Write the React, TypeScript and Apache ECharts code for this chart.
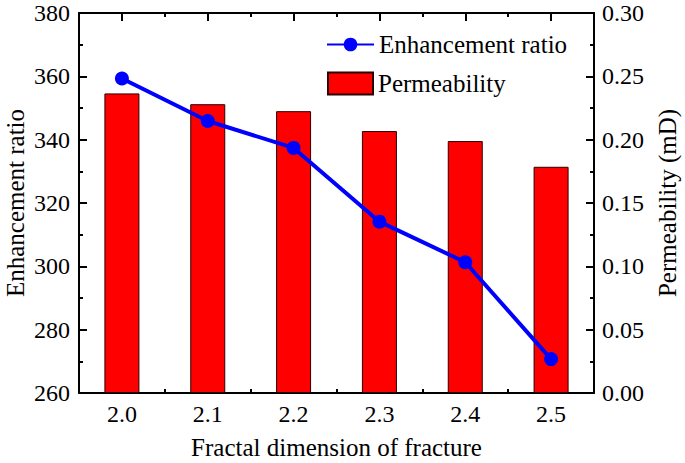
import React, { useEffect, useRef } from "react";
import * as echarts from "echarts";

const categories = ["2.0", "2.1", "2.2", "2.3", "2.4", "2.5"];
const enhancementRatio = [359.3, 345.9, 337.4, 314.1, 301.3, 270.7];
const permeability = [0.2365, 0.228, 0.2225, 0.2068, 0.1989, 0.1786];
const leftTicks = { min: 260, max: 380, interval: 20 };
const rightTicks = { min: 0, max: 0.3, interval: 0.05 };

const FONT = "'Liberation Serif', 'Times New Roman', serif";

export default function App() {
  const ref = useRef<HTMLDivElement>(null);
  useEffect(() => {
    if (!ref.current) return;
    const chart = echarts.init(ref.current, undefined, { renderer: "svg" });
    const black = "#000";
    const baseX = {
      type: "category",
      data: categories,
      boundaryGap: true,
      axisLine: { show: true, lineStyle: { color: black, width: 2 } },
      splitLine: { show: false },
    };
    chart.setOption({
      animation: false,
      backgroundColor: "#fff",
      textStyle: { fontFamily: FONT },
      grid: {
        left: 79,
        right: 91,
        top: 13,
        bottom: 70,
        containLabel: false,
        outerBoundsMode: "none",
      },
      legend: [
        {
          data: ["Enhancement ratio"],
          orient: "vertical",
          left: 326,
          top: 32,
          padding: 0,
          itemWidth: 47,
          itemHeight: 17,
          textStyle: { fontFamily: FONT, fontSize: 25, color: black },
          selectedMode: false,
        },
        {
          data: [{ name: "Permeability", icon: "rect" }],
          orient: "vertical",
          left: 327,
          top: 71,
          padding: 0,
          itemWidth: 45,
          itemHeight: 22,
          textStyle: { fontFamily: FONT, fontSize: 25, color: black },
          selectedMode: false,
        },
      ],
      xAxis: [
        {
          ...baseX,
          position: "bottom",
          name: "Fractal dimension of fracture",
          nameLocation: "middle",
          nameGap: 42,
          nameTextStyle: { fontFamily: FONT, fontSize: 25, color: black },
          axisTick: { show: true, inside: true, alignWithLabel: true, length: 8, lineStyle: { color: black, width: 2 } },
          axisLabel: { show: true, margin: 9, fontFamily: FONT, fontSize: 24, color: black },
        },
        {
          ...baseX,
          position: "bottom",
          axisLine: { show: false },
          axisTick: { show: true, inside: true, length: 4, lineStyle: { color: black, width: 2 } },
          axisLabel: { show: false },
        },
        {
          ...baseX,
          position: "top",
          axisTick: { show: true, inside: true, alignWithLabel: true, length: 8, lineStyle: { color: black, width: 2 } },
          axisLabel: { show: false },
        },
        {
          ...baseX,
          position: "top",
          axisLine: { show: false },
          axisTick: { show: true, inside: true, length: 4, lineStyle: { color: black, width: 2 } },
          axisLabel: { show: false },
        },
      ],
      yAxis: [
        {
          type: "value",
          position: "left",
          min: leftTicks.min,
          max: leftTicks.max,
          interval: leftTicks.interval,
          name: "Enhancement ratio",
          nameLocation: "middle",
          nameGap: 51,
          nameMoveOverlap: false,
          nameTextStyle: { fontFamily: FONT, fontSize: 25, color: black },
          axisLine: { show: true, lineStyle: { color: black, width: 2 } },
          axisTick: { show: true, inside: true, length: 8, lineStyle: { color: black, width: 2 } },
          minorTick: { show: true, splitNumber: 2, length: 4, lineStyle: { color: black, width: 2 } },
          axisLabel: { margin: 9, fontFamily: FONT, fontSize: 24, color: black },
          splitLine: { show: false },
        },
        {
          type: "value",
          position: "right",
          min: rightTicks.min,
          max: rightTicks.max,
          interval: rightTicks.interval,
          name: "Permeability (mD)",
          nameLocation: "middle",
          nameGap: 61,
          nameRotate: 90,
          nameTextStyle: { fontFamily: FONT, fontSize: 25, color: black },
          axisLine: { show: true, lineStyle: { color: black, width: 2 } },
          axisTick: { show: true, inside: true, length: 8, lineStyle: { color: black, width: 2 } },
          minorTick: { show: true, splitNumber: 2, length: 4, lineStyle: { color: black, width: 2 } },
          axisLabel: {
            margin: 8,
            fontFamily: FONT,
            fontSize: 24,
            color: black,
            formatter: (v: number) => v.toFixed(2),
          },
          splitLine: { show: false },
        },
      ],
      series: [
        {
          name: "Permeability",
          type: "bar",
          xAxisIndex: 0,
          yAxisIndex: 1,
          data: permeability,
          barWidth: 35,
          itemStyle: { color: "#ff0000", borderColor: "#2a0000", borderWidth: 1 },
          z: 1,
        },
        {
          name: "Enhancement ratio",
          type: "line",
          xAxisIndex: 0,
          yAxisIndex: 0,
          data: enhancementRatio,
          symbol: "circle",
          symbolSize: 14,
          lineStyle: { color: "#0000ff", width: 4 },
          itemStyle: { color: "#0000ff" },
          z: 3,
        },
      ],
    });
    return () => chart.dispose();
  }, []);
  return (
    <div
      ref={ref}
      style={{ position: "fixed", left: 0, top: 0, width: 685, height: 463, background: "#fff" }}
    />
  );
}
